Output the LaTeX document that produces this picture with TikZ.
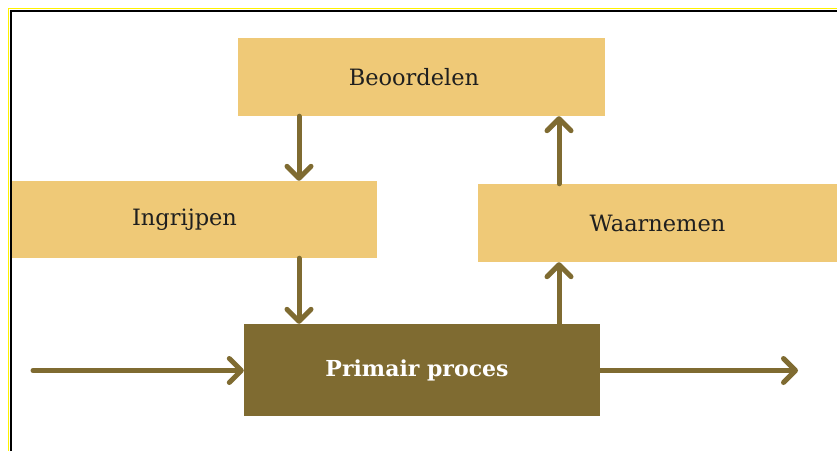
\documentclass[tikz,border=0pt]{standalone}
\usepackage{fontspec}
\setmainfont{DejaVu Serif}
\usetikzlibrary{arrows.meta}
\definecolor{lightbox}{HTML}{EFC977}
\definecolor{darkbox}{HTML}{7F6B31}
\definecolor{frameyellow}{HTML}{FFF200}
\tikzset{
  lightnode/.style={fill=lightbox, draw=none, inner sep=0pt, text=black!88,
    font=\fontsize{22.5}{26}\selectfont},
  darknode/.style={fill=darkbox, draw=none, inner sep=0pt, text=white,
    font=\bfseries\fontsize{22}{26}\selectfont},
  arr/.style={draw=darkbox, line width=5pt, line cap=round,
    -{Straight Barb[length=12pt, width=24pt, line cap=round, round]}},
}
\begin{document}
\begin{tikzpicture}[x=1pt, y=-1pt]
\useasboundingbox (0,0) rectangle (837,451);
% frame
\draw[frameyellow, line width=1.2pt] (8.8,451) -- (8.8,8.8) -- (837,8.8);
\draw[black, line width=2pt] (10.8,451) -- (10.8,10.8) -- (837,10.8);
% boxes
\node[lightnode, minimum width=367pt, minimum height=78pt] (beo) at (421.5,77) {Beoordelen\kern15pt\relax};
\node[lightnode, minimum width=365pt, minimum height=77pt] (ing) at (194.5,219.5) {Ingrijpen\kern20pt\relax};
\node[lightnode, minimum width=359pt, minimum height=78pt] (waa) at (657.5,223) {Waarnemen};
\node[darknode, minimum width=356pt, minimum height=92pt] (pp) at (422,370) {Primair proces\kern10pt\relax};
% connector x positions
\coordinate (xl) at (299,0);
\coordinate (xr) at (559,0);
\coordinate (in) at (33,370.5);
\coordinate (out) at (798,370.5);
% arrows
\draw[arr] (beo.south -| xl) -- (ing.north -| xl);
\draw[arr] (ing.south -| xl) -- (pp.north -| xl);
\draw[arr] (pp.north -| xr) -- (waa.south -| xr);
\draw[arr] (waa.north -| xr) -- (beo.south -| xr);
\draw[arr] (in) -- (pp.west |- in);
\draw[arr] (pp.east |- out) -- (out);
\end{tikzpicture}
\end{document}
